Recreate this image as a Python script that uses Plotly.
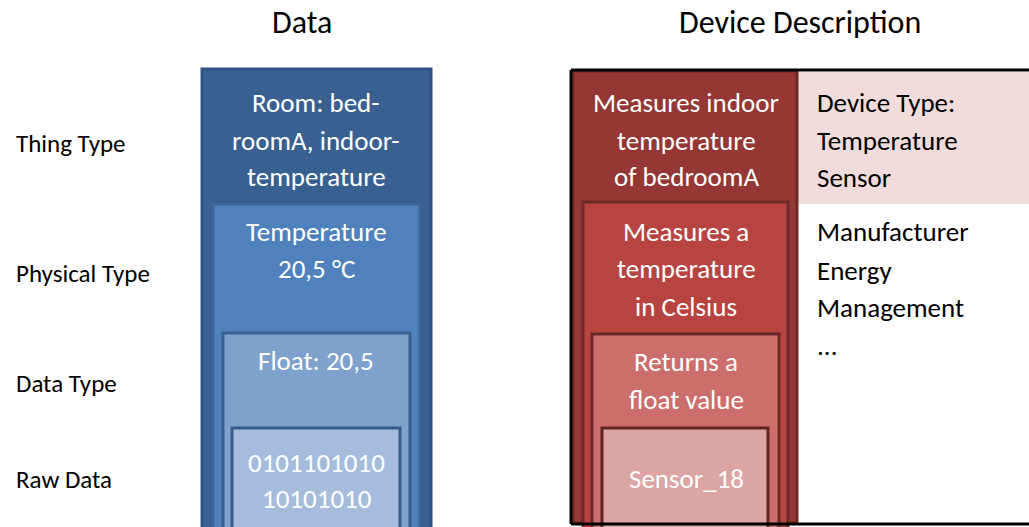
import plotly.graph_objects as go

W, H = 1029, 527
FONT = "Carlito, 'Liberation Sans Narrow', 'Open Sans', sans-serif"

# ---- data ----
headers = ["Data", "Device Description"]
row_labels = ["Thing Type", "Physical Type", "Data Type", "Raw Data"]
data_texts = [["Room: bed-", "roomA, indoor-", "temperature"],
              ["Temperature", "20,5 °C"],
              ["Float: 20,5"],
              ["0101101010", "10101010"]]
device_texts = [["Measures indoor", "temperature", "of bedroomA"],
                ["Measures a", "temperature", "in Celsius"],
                ["Returns a", "float value"],
                ["Sensor_18"]]
side_texts = [["Device Type:", "Temperature", "Sensor"],
              ["Manufacturer", "Energy", "Management", "..."]]

# ---- layout geometry ----
blue_fill = ["#386192", "#4f81bd", "#7ea1cd", "#a5bcdd"]
blue_line = ["#2e5281", "#3b6697", "#3a6190", "#385d8a"]
red_fill = ["#953735", "#b84441", "#cc6e6c", "#dca4a3"]
red_line = ["#6e2826", "#6e2a28", "#6a2826", "#632523"]
blue_boxes = [(202, 69, 431, 530), (213, 204, 420, 530), (223, 333, 410, 530), (232, 428, 400, 530)]
red_boxes = [(573, 71, 797, 523), (583, 202, 788, 530), (592, 334, 779, 530), (602, 428, 768, 530)]
text_y = [[102, 140, 176], [231, 268], [360], [462, 498]]
dtext_y = [[102, 140, 176], [231, 268, 306], [361, 399], [478]]
side_y = [[102, 140, 177], [231, 270, 307, 345]]
label_y = [143, 273, 383, 479]

shapes = []
annotations = []

# pink device-type box
shapes.append(dict(type="rect", x0=798, y0=72, x1=W, y1=204,
                   line=dict(width=0), fillcolor="#f2dcdb", layer="below"))

for (x0, y0, x1, y1), f, l in zip(blue_boxes, blue_fill, blue_line):
    shapes.append(dict(type="rect", x0=x0, y0=y0, x1=x1, y1=y1,
                       line=dict(color=l, width=3), fillcolor=f, layer="below"))
for (x0, y0, x1, y1), f, l in zip(red_boxes, red_fill, red_line):
    shapes.append(dict(type="rect", x0=x0, y0=y0, x1=x1, y1=y1,
                       line=dict(color=l, width=3), fillcolor=f, layer="below"))
# black frame (open on the right, running off the page)
for (x0, y0, x1, y1) in [(571, 70, W, 70), (571, 524, W, 524), (571, 70, 571, 524)]:
    shapes.append(dict(type="line", x0=x0, y0=y0, x1=x1, y1=y1,
                       line=dict(color="black", width=3)))

def add_text(x, y, txt, size, color, xanchor="center"):
    annotations.append(dict(x=x, y=y, text=txt, showarrow=False, xref="x", yref="y",
                            xanchor=xanchor, yanchor="middle",
                            font=dict(family=FONT, size=size, color=color)))

add_text(302, 22, headers[0], 32, "black")
add_text(800, 22, headers[1], 32, "black")

for lab, y in zip(row_labels, label_y):
    add_text(14, y, lab, 25, "black", xanchor="left")

for lines, ys in zip(data_texts, text_y):
    for t, y in zip(lines, ys):
        add_text(316, y, t, 27, "white")
for lines, ys in zip(device_texts, dtext_y):
    for t, y in zip(lines, ys):
        add_text(686, y, t, 27, "white")
for lines, ys in zip(side_texts, side_y):
    for t, y in zip(lines, ys):
        add_text(815, y, t, 27, "black", xanchor="left")

fig = go.Figure()
fig.update_layout(width=W, height=H, margin=dict(l=0, r=0, t=0, b=0),
                  paper_bgcolor="white", plot_bgcolor="white",
                  xaxis=dict(range=[0, W], visible=False, fixedrange=True),
                  yaxis=dict(range=[H, 0], visible=False, fixedrange=True),
                  shapes=shapes, annotations=annotations, showlegend=False)
fig.write_html("out.html", config={"displayModeBar": False},
               post_script="document.body.style.margin='0px';document.body.style.overflow='hidden';")
